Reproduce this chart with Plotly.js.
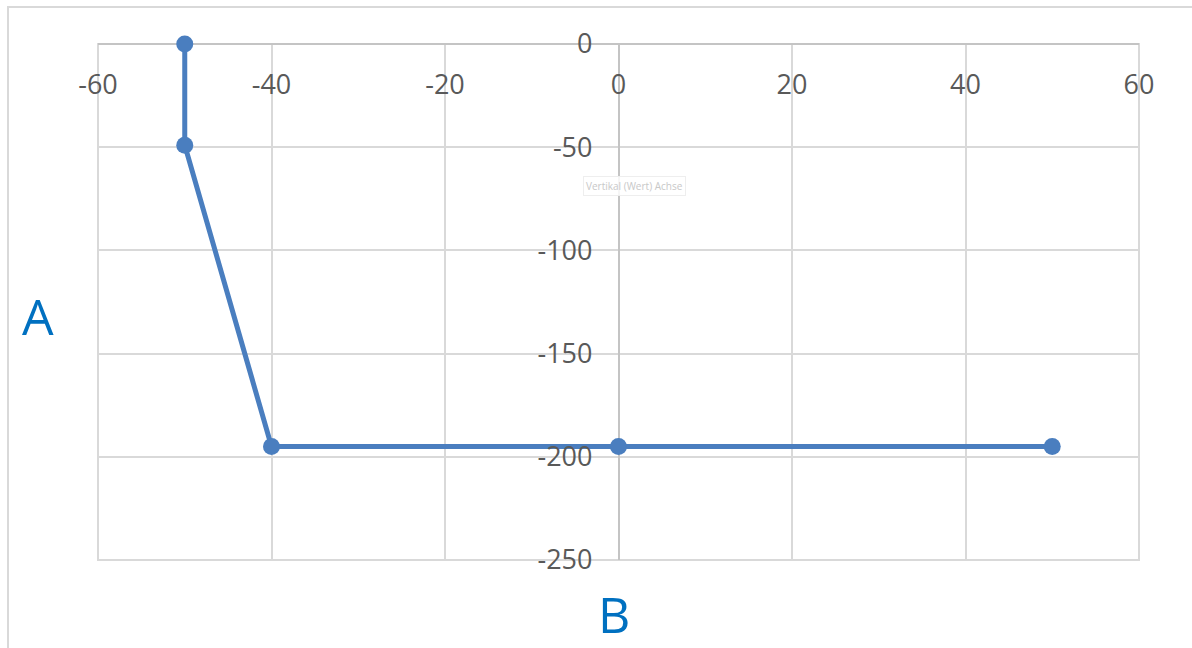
<!DOCTYPE html>
<html>
<head>
<meta charset="utf-8">
<script src="https://cdn.plot.ly/plotly-3.0.1.min.js"></script>
<style>
html,body{margin:0;padding:0;background:#fff;}
#chart{width:1192px;height:648px;}
</style>
</head>
<body>
<div id="chart"></div>
<script>
const xValues = [-50, -50, -40, 0, 50];
const yValues = [0, -49, -195, -195, -195];
const xTicks = [-60, -40, -20, 0, 20, 40, 60];
const yTicks = [0, -50, -100, -150, -200, -250];
const xTitle = "B";
const yTitle = "A";
const tooltipText = "Vertikal (Wert) Achse";

const trace = {
  x: xValues, y: yValues,
  type: 'scatter', mode: 'lines+markers',
  line: {color: '#4a7ebf', width: 5},
  marker: {color: '#4a7ebf', size: 17},
  hoverinfo: 'skip', cliponaxis: false
};

const W = 1192, H = 648;
const L = 98, R = 53, T = 44, B = 88;
const pw = W - L - R, ph = H - T - B;

const layout = {
  width: W, height: H,
  margin: {l: L, r: R, t: T, b: B},
  paper_bgcolor: '#ffffff', plot_bgcolor: '#ffffff',
  showlegend: false,
  font: {family: 'Open Sans, sans-serif', color: '#595959'},
  xaxis: {
    range: [-60, 60], tickvals: xTicks, ticktext: xTicks.map(String),
    anchor: 'free', position: 1, side: 'bottom',
    showgrid: true, gridcolor: '#d9d9d9', gridwidth: 2,
    zeroline: true, zerolinecolor: '#c4c4c4', zerolinewidth: 2,
    showline: false, ticks: '',
    tickfont: {size: 27, color: '#595959'},
    ticklabelstandoff: 22, fixedrange: true
  },
  yaxis: {
    range: [-250, 0], tickvals: yTicks, ticktext: yTicks.map(String),
    anchor: 'free', position: 0.5, side: 'left',
    showgrid: true, gridcolor: '#d9d9d9', gridwidth: 2,
    zeroline: true, zerolinecolor: '#c4c4c4', zerolinewidth: 2,
    showline: false, ticks: '',
    tickfont: {size: 27, color: '#595959'},
    ticklabelstandoff: 26, fixedrange: true
  },
  shapes: [
    {type: 'rect', xref: 'paper', yref: 'paper', x0: 0, x1: 1, y0: 0, y1: 1,
     line: {color: '#d9d9d9', width: 2}, layer: 'below'},
    {type: 'rect', xref: 'paper', yref: 'paper',
     x0: (8 - L) / pw, x1: (W + 20 - L) / pw,
     y0: -(B + 20) / ph, y1: (ph + T - 7) / ph,
     line: {color: '#d9d9d9', width: 2}, layer: 'below'}
  ],
  annotations: [
    {text: yTitle, xref: 'paper', yref: 'paper',
     x: (38 - L) / pw, y: (H - B - 316) / ph, xanchor: 'center', yanchor: 'middle',
     showarrow: false, font: {size: 50, color: '#0070c0'}},
    {text: xTitle, xref: 'paper', yref: 'paper',
     x: (614 - L) / pw, y: (H - B - 614) / ph, xanchor: 'center', yanchor: 'middle',
     showarrow: false, font: {size: 50, color: '#0070c0'}},
    {text: tooltipText, xref: 'paper', yref: 'paper',
     x: (634 - L) / pw, y: (H - B - 186) / ph, xanchor: 'center', yanchor: 'middle',
     showarrow: false, font: {size: 10, color: '#c8c8c8'},
     bgcolor: 'rgba(255,255,255,0.85)', bordercolor: '#eeeeee', borderwidth: 1, borderpad: 2}
  ]
};

Plotly.newPlot('chart', [trace], layout, {displayModeBar: false, staticPlot: true});
</script>
</body>
</html>
